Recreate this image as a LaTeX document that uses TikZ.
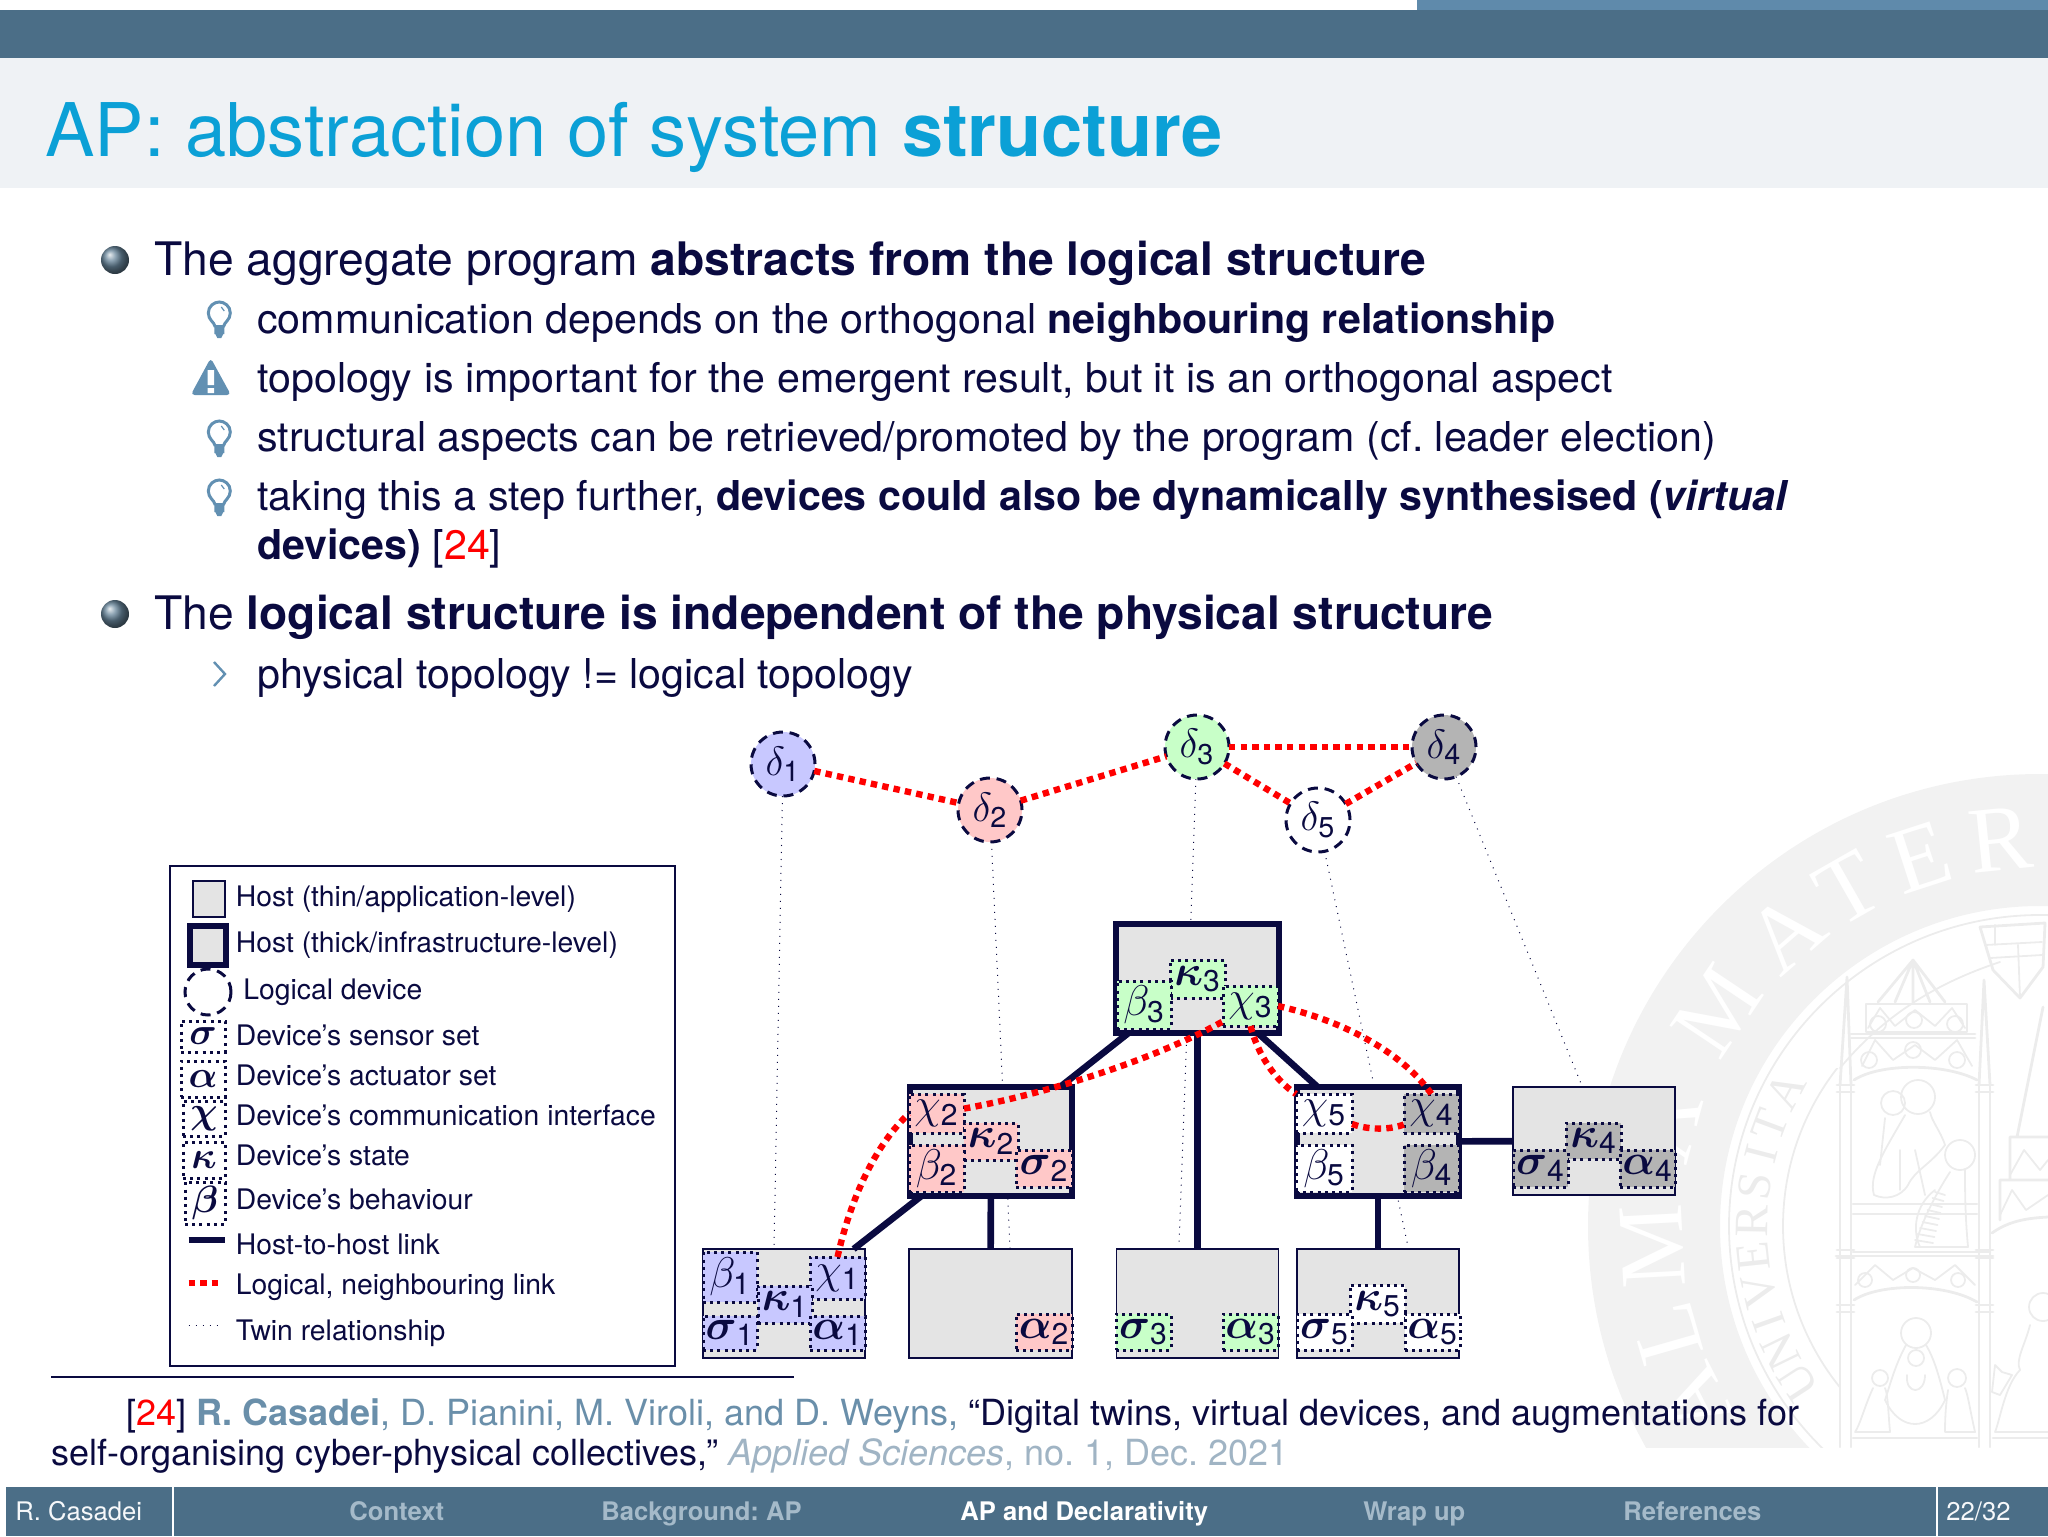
\documentclass[tikz,border=0pt]{standalone}
\usepackage{fix-cm}
\usepackage{amsmath}
\usepackage{fontspec}
\setmainfont{TeX Gyre Heros}
\setsansfont{TeX Gyre Heros}
\newfontfamily\sealfont{Liberation Serif}
\usetikzlibrary{shadings}
\AtBeginDocument{\frenchspacing}
\pgfdeclarelayer{wm}
\pgfdeclarelayer{twin}
\pgfsetlayers{wm,twin,main}
\definecolor{inkc}{HTML}{0A0A40}
\definecolor{barc}{HTML}{4B6E87}
\definecolor{progc}{HTML}{5F8AAB}
\definecolor{titlebg}{HTML}{EFF2F5}
\definecolor{titlec}{HTML}{0BA0D6}
\definecolor{iconc}{HTML}{6290B2}
\definecolor{authc}{HTML}{6A8FAA}
\definecolor{journc}{HTML}{A0B4C4}
\definecolor{navc}{HTML}{A5BAC9}
\definecolor{hostc}{HTML}{E4E4E4}
\definecolor{devA}{HTML}{C8C8FF}
\definecolor{devB}{HTML}{FFC8C8}
\definecolor{devC}{HTML}{C8FFC8}
\definecolor{devD}{HTML}{B4B4B4}
\definecolor{sealbg}{HTML}{F2F2F2}
\definecolor{sealln}{HTML}{ECECEC}
\tikzset{
  txtA/.style={anchor=base west,inner sep=0pt,text=inkc,font=\fontsize{23.1}{26}\selectfont},
  txtB/.style={anchor=base west,inner sep=0pt,text=inkc,font=\fontsize{20.58}{24}\selectfont},
  legtxt/.style={anchor=base west,inner sep=0pt,text=inkc,font=\fontsize{14.15}{17}\selectfont},
  reftxt/.style={anchor=base west,inner sep=0pt,text=inkc,font=\fontsize{18}{21}\selectfont},
  navtxt/.style={anchor=base west,inner sep=0pt,text=navc,font=\fontsize{12.8}{15}\selectfont},
  thinhost/.style={rectangle,draw=inkc,fill=hostc,line width=0.8pt,inner sep=0pt,outer sep=0pt},
  thickhost/.style={rectangle,draw=inkc,fill=hostc,line width=3pt,inner sep=0pt,outer sep=0pt},
  devbox/.style={rectangle,draw=inkc,line width=1.5pt,dash pattern=on 1.5pt off 2.1pt,inner sep=0pt,outer sep=0pt,text=inkc,font=\fontsize{21.5}{24}\selectfont},
  legsym/.style={font=\fontsize{19}{22}\selectfont},
  logdev/.style={circle,draw=inkc,line width=1.5pt,dash pattern=on 5pt off 3.4pt,inner sep=0pt,outer sep=0pt,minimum size=32pt,text=inkc,font=\fontsize{20.5}{23}\selectfont},
  hostlink/.style={draw=inkc,line width=3.3pt},
  logical/.style={draw=red,line width=3.2pt,dash pattern=on 3.2pt off 2.6pt},
  twinlink/.style={draw=inkc,line width=0.5pt,dash pattern=on 0.5pt off 3pt},
  ball/.style={circle,inner sep=0pt,minimum size=14pt,shading=ball,ball color=barc!85!white},
  sealline/.style={draw=sealln,line width=1.4pt,line join=round,line cap=round},
  sealthin/.style={draw=sealln,line width=0.9pt,line join=round,line cap=round},
}
\newcommand{\gsub}[2]{$#1_{\mathsf{#2}}$}
\newcommand{\bgsub}[2]{$\boldsymbol{#1}_{\mathsf{#2}}$}
% name, x1, x2, y1, y2, fill, label
\newcommand{\dbox}[7]{\node[devbox,fill=#6,minimum width={(#3-#2)*0.5pt},minimum height={(#5-#4)*0.5pt}] (#1) at ({(#2+#3)/2},{(#4+#5)/2}) {#7};}
\newcommand{\lbox}[6]{\node[devbox,legsym,fill=white,minimum width={(#3-#2)*0.5pt},minimum height={(#5-#4)*0.5pt}] (#1) at ({(#2+#3)/2},{(#4+#5)/2}) {#6};}
\newcommand{\hostnode}[6]{\node[#1,minimum width={(#4-#3)*0.5pt},minimum height={(#6-#5)*0.5pt}] (#2) at ({(#3+#4)/2},{(#5+#6)/2}) {};}
\newcommand{\bulbicon}[2]{\begin{scope}[shift={(#1,#2)}]
  \draw[iconc,line width=1.5pt] (-4,10) .. controls (-5,5) and (-11,3) .. (-11,-4) .. controls (-11,-11) and (-5,-15) .. (0,-15) .. controls (5,-15) and (11,-11) .. (11,-4) .. controls (11,3) and (5,5) .. (4,10);
  \fill[iconc] (-5,8) rectangle (5,17) (-4,17) -- (4,17) -- (2,21) -- (-2,21) -- cycle;
  \draw[iconc,line width=0.6pt] (2,-10) -- (5,-6);
\end{scope}}
\begin{document}
\begin{tikzpicture}[x=0.5pt,y=-0.5pt]
\useasboundingbox (0,0) rectangle (2048,1536);
% ---------- watermark
\begin{pgfonlayer}{wm}
\begin{scope}
\clip (1500,760) rectangle (2048,1447);
\fill[sealbg,even odd rule] (2040,1226) circle[radius=452*0.5pt] (2040,1226) circle[radius=320*0.5pt];
\draw[sealthin] (2040,1226) circle[radius=311*0.5pt];
\begin{scope}
\clip (1500,1068) rectangle (1840,1400);
\draw[sealthin] (2040,1226) circle[radius=257*0.5pt];
\end{scope}
\draw[sealthin] (1840,1068) .. controls (1880,1020) and (1930,985) .. (2000,962);
\foreach \ch/\ang in {R/5.9,E/18,T/29.7,A/41,M/56.2,A/75,M/93,L/106,A/117}{
  \node[text=white,inner sep=0pt,rotate=\ang,font=\sealfont\fontsize{47}{50}\selectfont] at ({2040-388*sin(\ang)},{1226-388*cos(\ang)}) {\ch};
}
\foreach \ch/\ang in {U/123,N/116,I/109.5,V/103,E/96,R/89,S/82,I/75.5,T/69.5,A/62}{
  \node[text=sealln,inner sep=0pt,rotate=\ang,font=\sealfont\fontsize{24}{26}\selectfont] at ({2040-288*sin(\ang)},{1226-288*cos(\ang)}) {\ch};
}
% pillars
\draw[sealline] (1840,1080) -- (1840,1447) (1851,1080) -- (1851,1447) (1979,1080) -- (1979,1447) (1990,1080) -- (1990,1447);
\draw[sealline] (1840,1085) -- (1847,977) -- (1851,1085) (1979,1085) -- (1984,980) -- (1990,1085);
\foreach \yy in {1085,1092,1250,1258,1305,1312}{ \draw[sealline] (1837,\yy) -- (1854,\yy) (1976,\yy) -- (1993,\yy); }
\draw[sealline] (1854,1080) .. controls (1880,1063) and (1945,1063) .. (1977,1080);
\draw[sealline] (1854,1300) .. controls (1880,1283) and (1945,1283) .. (1977,1302);
\draw[sealline] (1851,1034) -- (1975,1034) (1851,1038) -- (1975,1038) (1866,1004) rectangle (1967,1032);
\draw[sealline] (1878,1002) -- (1913,960) -- (1945,1002) (1895,1002) -- (1913,960) -- (1930,1002) (1913,960) -- (1913,1002);
\draw[sealthin] (1862,1066) -- (1875,1040) -- (1893,1060) -- (1915,1045) -- (1935,1060) -- (1957,1040) -- (1972,1066);
\draw[sealthin] (1868,1028) -- (1880,1008) -- (1895,1026) -- (1915,1010) -- (1935,1026) -- (1952,1008) -- (1965,1028);
\foreach \xx/\yy in {1869/1060,1913/1050,1957/1060,1878/1024,1914/1020,1955/1024}{ \draw[sealthin] (\xx,\yy) circle[radius=8*0.5pt]; }
\draw[sealthin] (1855,1285) -- (1875,1265) -- (1893,1280) -- (1913,1268) -- (1935,1280) -- (1955,1265) -- (1975,1285);
\foreach \xx/\yy in {1865/1280,1913/1275,1958/1280}{ \draw[sealthin] (\xx,\yy) circle[radius=7*0.5pt]; }
\draw[sealline] (1853,1204) -- (1977,1204) (1853,1214) -- (1977,1214) (1853,1252) -- (1990,1252) (1836,1256) -- (1993,1256) (1853,1438) -- (1977,1438) (1993,1438) -- (2048,1438);
% shield
\draw[sealline] (1980,927) -- (2045,923) -- (2043,967) -- (2020,998) -- (1993,970) -- cycle;
\draw[sealthin] (1985,945) -- (2042,942) (1990,958) -- (2042,955) (2018,945) -- (2020,998) (1995,925) -- (1995,945);
% second tabernacle
\draw[sealline] (2017,1137) -- (2043,1007) (2010,1137) -- (2048,1137) (2010,1137) -- (2010,1180) (2000,1180) -- (2048,1180) (2000,1180) -- (2000,1220) (1992,1233) .. controls (2010,1220) and (2030,1218) .. (2048,1217);
\draw[sealthin] (2010,1175) -- (2024,1150) -- (2040,1170) -- (2048,1160) (2000,1215) -- (2012,1190) -- (2026,1210) -- (2048,1195);
% upper figures
\draw[sealthin] (1893,1103) circle[radius=12*0.5pt] (1918,1097) circle[radius=17*0.5pt] (1960,1155) circle[radius=15*0.5pt];
\draw[sealthin] (1905,1115) .. controls (1885,1150) and (1868,1175) .. (1874,1195) .. controls (1885,1200) and (1900,1198) .. (1908,1185) .. controls (1915,1170) and (1930,1165) .. (1945,1145) .. controls (1940,1130) and (1932,1122) .. (1930,1112);
\draw[sealthin] (1885,1118) -- (1880,1165) (1900,1150) -- (1900,1190) (1915,1150) -- (1925,1195);
\draw[sealthin] (1950,1172) .. controls (1935,1195) and (1920,1225) .. (1915,1247) -- (1968,1247) .. controls (1965,1215) and (1965,1190) .. (1965,1170);
\draw[sealthin] (1935,1190) .. controls (1915,1205) and (1912,1230) .. (1920,1247);
\foreach \kk in {0,1,...,8}{ \draw[sealthin] ({1935-\kk*2.5},{1192+\kk*6}) -- ({1945-\kk*1.5},{1195+\kk*6}); }
% lower figures
\draw[sealthin] (1916,1333) circle[radius=15*0.5pt] (1916,1358) circle[radius=8*0.5pt];
\draw[sealthin] (1906,1345) .. controls (1895,1365) and (1890,1385) .. (1885,1400) .. controls (1900,1432) and (1930,1432) .. (1945,1400) .. controls (1940,1380) and (1935,1360) .. (1926,1345);
\draw[sealthin] (1907,1375) .. controls (1905,1395) and (1925,1395) .. (1925,1375);
\draw[sealthin] (1880,1378) circle[radius=8*0.5pt] (1957,1378) circle[radius=9*0.5pt];
\draw[sealthin] (1873,1388) .. controls (1865,1405) and (1860,1425) .. (1855,1432) -- (1890,1432) .. controls (1888,1410) and (1888,1395) .. (1885,1388);
\draw[sealthin] (1948,1390) .. controls (1945,1410) and (1945,1425) .. (1945,1432) -- (1975,1432) .. controls (1970,1410) and (1968,1395) .. (1965,1388);
\draw[sealthin] (2043,1307) circle[radius=14*0.5pt];
\draw[sealthin] (2030,1325) .. controls (2025,1345) and (2015,1360) .. (2020,1370) .. controls (2005,1385) and (2000,1420) .. (1995,1432) -- (2048,1432);
\draw[sealthin] (1995,1365) -- (2002,1372) -- (2012,1375) -- (2000,1395) -- (1992,1392) -- (1995,1365);
\end{scope}
\end{pgfonlayer}
% ---------- header
\fill[progc] (1417,0) rectangle (2048,10);
\fill[barc] (0,10) rectangle (2048,58);
\fill[titlebg] (0,58) rectangle (2048,188);
\node[anchor=base west,inner sep=0pt,text=titlec,font=\fontsize{37}{41}\selectfont] (title) at (45,156) {AP: abstraction of system \textbf{structure}};
% ---------- body
\node[ball] (ballA) at (115,260) {};
\node[ball] (ballB) at (115,614) {};
\node[txtA] (lineA) at (154,275) {The aggregate program \textbf{abstracts from the logical structure}};
\bulbicon{219.3}{317}
\node[txtB] (lineB) at (257,333.5) {communication depends on the orthogonal \textbf{neighbouring relationship}};
\fill[iconc,rounded corners=2pt] (210.7,358) -- (231,395) -- (190.7,395) -- cycle;
\fill[white] (207.7,370) rectangle (214,385) (207.7,388) rectangle (214,393);
\node[txtB] (lineC) at (257,392) {topology is important for the emergent result, but it is an orthogonal aspect};
\bulbicon{219.3}{436}
\node[txtB] (lineD) at (257,451) {structural aspects can be retrieved/promoted by the program (cf. leader election)};
\bulbicon{219.3}{495}
\node[txtB] (lineE) at (257,510.5) {taking this a step further, \textbf{devices could also be dynamically synthesised (\textit{virtual}}};
\node[txtB] (lineF) at (257,559) {\textbf{devices)} [\textcolor{red}{24}]};
\node[txtA] (lineG) at (154,629) {The \textbf{logical structure is independent of the physical structure}};
\draw[iconc,line width=1.2pt] (214,662) -- (225,674) -- (214,686);
\node[txtB] (lineH) at (257,688.5) {physical topology != logical topology};
% ---------- legend
\node[thinhost,fill=white,minimum width=252.5pt,minimum height=250pt] (legbox) at (422.5,1116) {};
\hostnode{thinhost}{legA}{193}{225}{881}{917}
\hostnode{thickhost}{legB}{190}{226}{926}{965}
\node[logdev,minimum size=23pt] (legC) at (208,992) {};
\lbox{legD}{181}{225}{1021}{1052}{$\boldsymbol{\sigma}$}
\lbox{legE}{181}{225}{1061}{1097}{$\boldsymbol{\alpha}$}
\lbox{legF}{183}{225}{1101}{1136}{$\boldsymbol{\chi}$}
\lbox{legG}{183}{225}{1142}{1178}{$\boldsymbol{\kappa}$}
\lbox{legH}{185}{225}{1182}{1224}{$\boldsymbol{\beta}$}
\coordinate (lkAa) at (188.5,1240); \coordinate (lkAb) at (224.7,1240);
\coordinate (lkBa) at (188.5,1283); \coordinate (lkBb) at (222,1283);
\coordinate (lkCa) at (188.5,1325.6); \coordinate (lkCb) at (222,1325.6);
\draw[hostlink] (lkAa) -- (lkAb);
\draw[logical] (lkBa) -- (lkBb);
\draw[twinlink] (lkCa) -- (lkCb);
\node[legtxt] (lgA) at (235.5,906) {Host (thin/application-level)};
\node[legtxt] (lgB) at (235.5,952) {Host (thick/infrastructure-level)};
\node[legtxt] (lgC) at (243,999) {Logical device};
\node[legtxt] (lgD) at (235.5,1045) {Device’s sensor set};
\node[legtxt] (lgE) at (235.5,1085) {Device’s actuator set};
\node[legtxt] (lgF) at (235.5,1125) {Device’s communication interface};
\node[legtxt] (lgG) at (235.5,1165) {Device’s state};
\node[legtxt] (lgH) at (235.5,1209) {Device’s behaviour};
\node[legtxt] (lgI) at (235.5,1254) {Host-to-host link};
\node[legtxt] (lgJ) at (235.5,1294) {Logical, neighbouring link};
\node[legtxt] (lgK) at (235.5,1340) {Twin relationship};
% ---------- logical devices
\node[logdev,fill=devA] (d1) at (783,764) {\gsub{\delta}{1}};
\node[logdev,fill=devB] (d2) at (990,810) {\gsub{\delta}{2}};
\node[logdev,fill=devC] (d3) at (1197,747) {\gsub{\delta}{3}};
\node[logdev,fill=devD] (d4) at (1444,747) {\gsub{\delta}{4}};
\node[logdev,fill=white] (d5) at (1318,820) {\gsub{\delta}{5}};
% ---------- hosts
\hostnode{thickhost}{h3}{1116}{1279}{924}{1033}
\hostnode{thickhost}{h2}{910}{1072}{1087}{1196}
\hostnode{thickhost}{h4}{1297}{1459}{1087}{1196}
\hostnode{thinhost}{h6}{1513}{1675}{1087}{1195}
\hostnode{thinhost}{b1}{703}{865}{1249}{1358}
\hostnode{thinhost}{b2}{909}{1072}{1249}{1358}
\hostnode{thinhost}{b3}{1116.5}{1278.5}{1249}{1358}
\hostnode{thinhost}{b5}{1297}{1459}{1249}{1358}
% twins
\coordinate (t1) at (774,1249);
\coordinate (t2) at (1010,1248);
\coordinate (t3) at (1179,1247);
\coordinate (t4) at (1582,1086);
\coordinate (t5) at (1408.5,1249);
\begin{pgfonlayer}{twin}
\draw[twinlink] (d1) -- (t1);
\draw[twinlink] (d2) -- (t2);
\draw[twinlink] (d3) -- (t3);
\draw[twinlink] (d4) -- (t4);
\draw[twinlink] (d5) -- (t5);
\end{pgfonlayer}
% host links
\draw[hostlink] (h3) -- (h2);
\draw[hostlink] (h3) -- (h4);
\draw[hostlink] (h3) -- (b3);
\draw[hostlink] (h2) -- (b1);
\draw[hostlink] (h2) -- (b2);
\draw[hostlink] (h4) -- (b5);
\draw[hostlink] (h4) -- (h6);
% ---------- device components
\dbox{be1}{703}{757}{1252}{1302}{devA}{\gsub{\beta}{1}}
\dbox{ch1}{810}{865}{1257}{1299}{devA}{\gsub{\chi}{1}}
\dbox{ka1}{758}{812}{1286}{1323}{devA}{\bgsub{\kappa}{1}}
\dbox{si1}{703}{757}{1316}{1350}{devA}{\bgsub{\sigma}{1}}
\dbox{al1}{810}{865}{1316}{1350}{devA}{\bgsub{\alpha}{1}}
\dbox{ch2}{909}{964}{1094}{1133}{devB}{\gsub{\chi}{2}}
\dbox{ka2}{964}{1018}{1123}{1160}{devB}{\bgsub{\kappa}{2}}
\dbox{be2}{909}{964}{1145}{1192}{devB}{\gsub{\beta}{2}}
\dbox{si2}{1016}{1072}{1150}{1187}{devB}{\bgsub{\sigma}{2}}
\dbox{al2}{1016}{1072}{1314}{1350}{devB}{\bgsub{\alpha}{2}}
\dbox{ka3}{1170}{1225}{960}{998}{devC}{\bgsub{\kappa}{3}}
\dbox{be3}{1117}{1171}{981}{1029}{devC}{\gsub{\beta}{3}}
\dbox{ch3}{1223}{1278}{986}{1026}{devC}{\gsub{\chi}{3}}
\dbox{si3}{1116}{1171}{1314}{1350}{devC}{\bgsub{\sigma}{3}}
\dbox{al3}{1223}{1278}{1314}{1350}{devC}{\bgsub{\alpha}{3}}
\dbox{ch4}{1404}{1459}{1094}{1133}{devD}{\gsub{\chi}{4}}
\dbox{be4}{1404}{1459}{1145}{1192}{devD}{\gsub{\beta}{4}}
\dbox{ka4}{1566}{1621}{1123}{1159}{devD}{\bgsub{\kappa}{4}}
\dbox{si4}{1513}{1568}{1150}{1187}{devD}{\bgsub{\sigma}{4}}
\dbox{al4}{1620}{1675}{1150}{1187}{devD}{\bgsub{\alpha}{4}}
\dbox{ch5}{1296}{1352}{1094}{1133}{white}{\gsub{\chi}{5}}
\dbox{be5}{1296}{1352}{1145}{1192}{white}{\gsub{\beta}{5}}
\dbox{ka5}{1350}{1405}{1285}{1323}{white}{\bgsub{\kappa}{5}}
\dbox{si5}{1297}{1352}{1314}{1350}{white}{\bgsub{\sigma}{5}}
\dbox{al5}{1405}{1460}{1314}{1350}{white}{\bgsub{\alpha}{5}}
% ---------- logical links
\draw[logical] (d1) -- (d2);
\draw[logical] (d2) -- (d3);
\draw[logical] (d3) -- (d4);
\draw[logical] (d3) -- (d5);
\draw[logical] (d5) -- (d4);
\draw[logical] (ch1.north) .. controls (848,1210) and (870,1150) .. (ch2.west);
\draw[logical] (ch2) .. controls (1040,1095) and (1150,1062) .. (ch3);
\draw[logical] (ch3.east) .. controls (1340,1020) and (1400,1050) .. (ch4.north);
\draw[logical] (ch3.south) .. controls (1258,1055) and (1275,1080) .. (ch5.north west);
\draw[logical] (ch5) .. controls (1368,1130) and (1390,1130) .. (ch4);
% ---------- footnote
\coordinate (ruleA) at (51,1377); \coordinate (ruleB) at (794,1377);
\draw[inkc,line width=1pt] (ruleA) -- (ruleB);
\node[reftxt] (refA) at (126,1425) {[\textcolor{red}{24}] \textcolor{authc}{\textbf{R. Casadei}, D. Pianini, M. Viroli, and D. Weyns,} “Digital twins, virtual devices, and augmentations for};
\node[reftxt] (refB) at (51,1465) {self-organising cyber-physical collectives,” \textcolor{journc}{\textit{Applied Sciences}, no. 1, Dec. 2021}};
% ---------- footer
\fill[barc] (6,1487) rectangle (2048,1536);
\draw[white,line width=1pt] (172.5,1487) -- (172.5,1536) (1937,1487) -- (1937,1536);
\node[navtxt,text=white!90!navc] (fA) at (15,1520) {R. Casadei};
\node[navtxt] (fB) at (349,1520) {\textbf{Context}};
\node[navtxt] (fC) at (601,1520) {\textbf{Background: AP}};
\node[navtxt,text=white] (fD) at (960,1520) {\textbf{AP and Declarativity}};
\node[navtxt] (fE) at (1363,1520) {\textbf{Wrap up}};
\node[navtxt] (fF) at (1623,1520) {\textbf{References}};
\node[navtxt,text=white!90!navc] (fG) at (1946,1520) {22/32};
\end{tikzpicture}
\end{document}
